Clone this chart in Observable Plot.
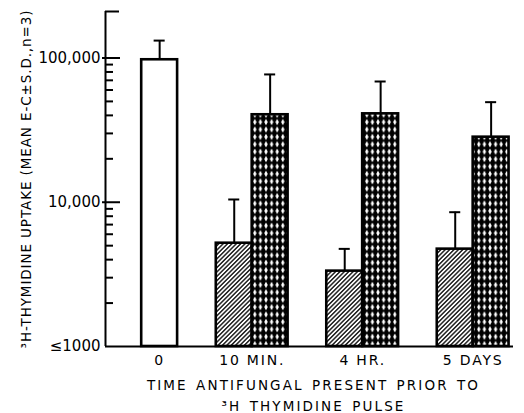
<!DOCTYPE html>
<html>
<head>
<meta charset="utf-8">
<script src="https://cdn.jsdelivr.net/npm/d3@7"></script>
<script src="https://cdn.jsdelivr.net/npm/@observablehq/plot@0.6"></script>
<style>
  html, body { margin: 0; padding: 0; background: #fff; }
  text[aria-label="x-labels"] { letter-spacing: 1.8px; }
  text[aria-label="x-title"] { letter-spacing: 2.1px; word-spacing: 2px; }
  text[aria-label="y-title"] { letter-spacing: 0.9px; }
</style>
</head>
<body>
<svg width="0" height="0" style="position:absolute">
  <defs>
    <pattern id="hatch" patternUnits="userSpaceOnUse" width="3.1" height="3.1" patternTransform="rotate(45)">
      <rect width="3.1" height="3.1" fill="white"/>
      <line x1="1.55" y1="0" x2="1.55" y2="3.1" stroke="black" stroke-width="1.3"/>
    </pattern>
    <pattern id="cross" patternUnits="userSpaceOnUse" width="5.6" height="7.4">
      <rect width="5.6" height="7.4" fill="black"/>
      <polygon points="2.8,0.4 4.5,3.7 2.8,7.0 1.1,3.7" fill="white"/>
    </pattern>
  </defs>
</svg>
<div id="chart"></div>
<script>
// ---- data ----
const groups = ["0", "10 MIN.", "4 HR.", "5 DAYS"];
// control (open bar), group "0"
const controlMean = [97200];
const controlSD = [34800];
// hatched bars, groups "10 MIN.", "4 HR.", "5 DAYS"
const hatchedMean = [5200, 3330, 4730];
const hatchedSD = [5250, 1420, 3800];
// cross-hatched bars, same groups
const crossMean = [40400, 41000, 28250];
const crossSD = [36500, 27700, 21150];
// axis ticks
const yTickValues = [1000, 10000, 100000];
const yMinorTicks = [2000, 3000, 4000, 5000, 6000, 7000, 8000, 9000,
                     20000, 30000, 40000, 50000, 60000, 70000, 80000, 90000];
const yTitle = "³H-THYMIDINE UPTAKE (MEAN E-C±S.D.,n=3)";
const xTitle = "TIME ANTIFUNGAL PRESENT PRIOR TO\n³H THYMIDINE PULSE";

// ---- layout / style ----
const W = 524, H = 413, ML = 105, MR = 11, MT = 11, MB = 67;
const frameW = W - ML - MR;
const xDomain = [-0.3276, 3.365];
const yDomain = [1000, 210000];
const bw = 0.325;     // bar width in group units
const cap = 0.05;     // half-width of error caps

const bars = [
  ...controlMean.map((m, i) => ({g: i, series: "control", mean: m, sd: controlSD[i]})),
  ...hatchedMean.map((m, i) => ({g: i + 1, series: "hatched", mean: m, sd: hatchedSD[i]})),
  ...crossMean.map((m, i) => ({g: i + 1, series: "cross", mean: m, sd: crossSD[i]}))
];
const left = d => d.series === "hatched" ? d.g - bw : d.g;
const right = d => d.series === "hatched" ? d.g : d.g + bw;
const center = d => (left(d) + right(d)) / 2;
const fills = {control: "white", hatched: "url(#hatch)", cross: "url(#cross)"};

const chart = Plot.plot({
  width: W, height: H,
  marginLeft: ML, marginRight: MR, marginTop: MT, marginBottom: MB,
  style: {fontFamily: "DejaVu Sans", background: "white", color: "black", overflow: "visible"},
  x: {domain: xDomain, axis: null},
  y: {type: "log", domain: yDomain, axis: null},
  marks: [
    Plot.ruleX(bars, {x: center, y1: d => d.mean, y2: d => d.mean + d.sd, stroke: "black", strokeWidth: 2}),
    Plot.ruleY(bars, {y: d => d.mean + d.sd, x1: d => center(d) - cap, x2: d => center(d) + cap, stroke: "black", strokeWidth: 2}),
    Plot.rectY(bars, {x1: left, x2: right, y1: () => yDomain[0], y2: d => d.mean,
      fill: d => fills[d.series], stroke: "black", strokeWidth: 2.6}),
    // axes lines
    Plot.ruleX([xDomain[0]], {y1: yDomain[0], y2: yDomain[1], stroke: "black", strokeWidth: 2}),
    Plot.ruleY([yDomain[0]], {stroke: "black", strokeWidth: 2}),
    Plot.ruleY([yDomain[1]], {insetRight: frameW - 14, stroke: "black", strokeWidth: 2}),
    Plot.ruleY(yTickValues.slice(1), {insetLeft: -3, insetRight: frameW - 15, stroke: "black", strokeWidth: 2}),
    Plot.ruleY(yMinorTicks, {insetRight: frameW - 8, stroke: "black", strokeWidth: 2}),
    Plot.axisY({ticks: yTickValues, tickSize: 0, tickPadding: 5, fontSize: 15, label: null,
      tickFormat: d => d === 1000 ? "≤1000" : d3.format(",")(d)}),
    // x tick labels
    Plot.text(groups, {x: (d, i) => i === 0 ? bw / 2 : i, text: d => d, frameAnchor: "bottom",
      lineAnchor: "middle", dy: 14, fontSize: 14, fill: "black", ariaLabel: () => "x-labels"}),
    // titles
    Plot.text([xTitle], {frameAnchor: "bottom", lineAnchor: "middle", dy: 47.5, dx: 4, fontSize: 13.5,
      lineHeight: 1.55, fill: "black", ariaLabel: () => "x-title"}),
    Plot.text([yTitle], {frameAnchor: "left", textAnchor: "middle", lineAnchor: "middle", dx: -79,
      rotate: -90, fontSize: 13.5, fill: "black", ariaLabel: () => "y-title"})
  ]
});
document.getElementById("chart").appendChild(chart);
</script>
</body>
</html>
